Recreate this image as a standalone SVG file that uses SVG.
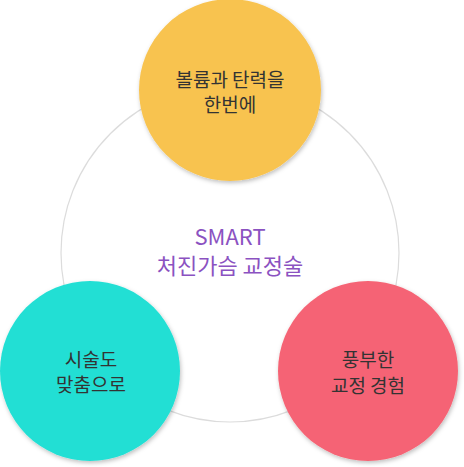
<svg xmlns="http://www.w3.org/2000/svg" width="464" height="467" viewBox="0 0 464 467">
<defs>
<filter id="sh" x="-20%" y="-20%" width="140%" height="140%">
<feDropShadow dx="1" dy="2" stdDeviation="2" flood-color="#000" flood-opacity="0.25"/>
</filter>
<style>
.lbl{font-family:"Noto Sans CJK KR","Noto Sans",sans-serif;font-size:19px;fill:#333;text-anchor:middle}
.ctr{font-family:"Noto Sans CJK KR","Noto Sans",sans-serif;font-size:22px;fill:#8B52C1;text-anchor:middle}
</style>
</defs>
<rect width="464" height="467" fill="#fff"/>
<g id="connectors">
<circle cx="230" cy="253" r="169" fill="none" stroke="#dcdcdc" stroke-width="1.2"/>
</g>
<g id="center">
<text class="ctr" x="230" y="245">SMART</text>
<text class="ctr" x="230" y="274">처진가슴 교정술</text>
</g>
<g id="node-top">
<circle cx="230" cy="90" r="91" fill="#F8C350" filter="url(#sh)"/>
<text class="lbl" x="230" y="87">볼륨과 탄력을</text>
<text class="lbl" x="230" y="112">한번에</text>
</g>
<g id="node-left">
<circle cx="90" cy="371" r="90" fill="#22DFD4" filter="url(#sh)"/>
<text class="lbl" x="91" y="367">시술도</text>
<text class="lbl" x="91" y="392">맞춤으로</text>
</g>
<g id="node-right">
<circle cx="368" cy="371" r="90" fill="#F56474" filter="url(#sh)"/>
<text class="lbl" x="368" y="367">풍부한</text>
<text class="lbl" x="368" y="393">교정 경험</text>
</g>
</svg>
